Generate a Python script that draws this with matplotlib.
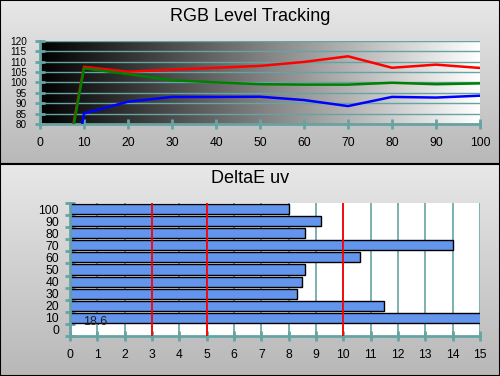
import matplotlib
matplotlib.use('Agg')
import matplotlib.pyplot as plt
import numpy as np
from matplotlib.colors import LinearSegmentedColormap

plt.rcParams['font.family'] = ['Liberation Sans', 'DejaVu Sans']

# RGB level tracking (stimulus %, level %)
red_x = [7.6, 10, 20, 30, 40, 50, 60, 70, 80, 90, 100]
red_y = [80, 107.5, 105.1, 106.1, 107.0, 107.9, 109.8, 112.5, 107.0, 108.5, 106.9]
green_x = [7.7, 10, 20, 30, 40, 50, 60, 70, 80, 90, 100]
green_y = [80, 106.7, 104.0, 101.0, 100.0, 99.1, 98.9, 98.9, 99.8, 99.1, 99.5]
blue_x = [9.6, 10, 20, 30, 40, 50, 60, 70, 80, 90, 100]
blue_y = [80, 85.1, 90.7, 93.0, 93.0, 93.1, 91.5, 88.6, 93.0, 92.7, 93.6]

# DeltaE uv per grey level
levels = ['0', '10', '20', '30', '40', '50', '60', '70', '80', '90', '100']
delta_e = [0, 18.6, 11.5, 8.3, 8.5, 8.6, 10.6, 14.0, 8.6, 9.2, 8.0]
thresholds = [3, 5, 10]

teal = '#66a3a3'
panel_cmap = LinearSegmentedColormap.from_list('panel', ['#e8e8e8', '#b8b8b8'])
grad = np.linspace(0, 1, 256).reshape(-1, 1)

fig = plt.figure(figsize=(5, 3.76), dpi=100)

# panel backgrounds with black frames
for rect in ([0, 0.565, 1, 0.435], [0, 0, 1, 0.565]):
    bg = fig.add_axes(rect, zorder=-10)
    bg.imshow(grad, cmap=panel_cmap, aspect='auto', extent=[0, 1, 0, 1])
    bg.set_xticks([])
    bg.set_yticks([])
    for s in bg.spines.values():
        s.set_color('black')
        s.set_linewidth(1.5)

fig.text(0.5, 0.957, 'RGB Level Tracking', ha='center', va='center', fontsize=13)
fig.text(0.5, 0.526, 'DeltaE uv', ha='center', va='center', fontsize=13)

# top chart
ax1 = fig.add_axes([0.08, 0.6702, 0.88, 0.2216])
ax1.imshow(np.linspace(0, 1, 256).reshape(1, -1), cmap='gray', aspect='auto',
           extent=[0, 100, 80, 120], zorder=0)
ax1.plot(red_x, red_y, color='#ff0000', lw=1.8, zorder=3)
ax1.plot(green_x, green_y, color='#008000', lw=1.8, zorder=3)
ax1.plot(blue_x, blue_y, color='#0000ff', lw=1.8, zorder=3)
ax1.set_xlim(0, 100)
ax1.set_ylim(80, 120)
ax1.set_xticks(range(0, 101, 10))
ax1.set_yticks(range(80, 121, 5))
ax1.yaxis.grid(True, color=teal, lw=1)
for s in ['top', 'right']:
    ax1.spines[s].set_visible(False)
for s in ['left', 'bottom']:
    ax1.spines[s].set_color(teal)
    ax1.spines[s].set_linewidth(2)
ax1.tick_params(direction='inout', length=7, width=2, color=teal, labelsize=8.7)
ax1.tick_params(axis='x', pad=6)
ax1.tick_params(axis='y', pad=6, labelsize=7.2)

# bottom chart
ax2 = fig.add_axes([0.14, 0.1064, 0.82, 0.3537])
ax2.set_facecolor('white')
ypos = np.arange(len(levels))
ax2.barh(ypos, delta_e, height=0.83, color='#6495ed', edgecolor='black', lw=1, zorder=2)
for t in thresholds:
    ax2.axvline(t, color='#ff0000', lw=1.3, zorder=3)
ax2.text(0.48, 0.64, '18.6', ha='left', va='center', fontsize=9, color='#222222', zorder=4)
ax2.set_xlim(0, 15)
ax2.set_ylim(-0.5, len(levels) - 0.5)
ax2.set_xticks(range(0, 16))
ax2.set_yticks(ypos)
ax2.set_yticklabels(levels)
ax2.set_yticks(np.arange(-0.5, len(levels), 1), minor=True)
ax2.xaxis.grid(True, color=teal, lw=1.2)
ax2.set_axisbelow(True)
for s in ['top', 'right']:
    ax2.spines[s].set_visible(False)
for s in ['left', 'bottom']:
    ax2.spines[s].set_color(teal)
    ax2.spines[s].set_linewidth(2)
ax2.tick_params(direction='inout', length=7, width=2, color=teal, labelsize=8.7)
ax2.tick_params(axis='y', which='major', length=0, pad=8)
ax2.tick_params(axis='y', which='minor', direction='inout', length=7, width=2, color=teal)
ax2.tick_params(axis='x', pad=6)

fig.savefig('out.png', dpi=100)
